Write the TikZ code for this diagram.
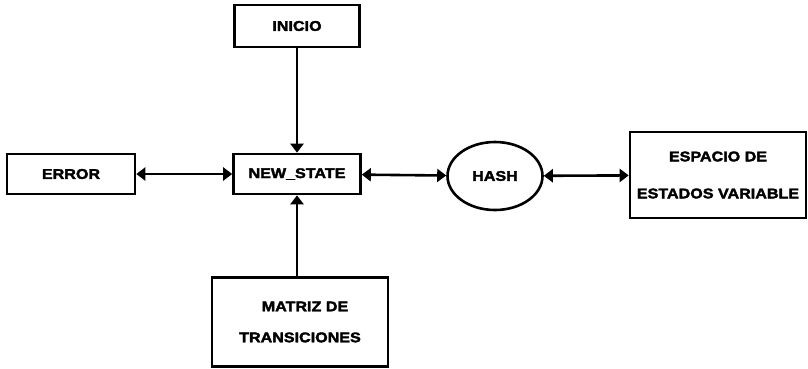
\documentclass[tikz,border=0pt]{standalone}
\usepackage{fontspec}
\newfontfamily\diagfont[FakeStretch=1.15, BoldFeatures={FakeBold=2.5}]{Liberation Sans}
\usetikzlibrary{arrows.meta, positioning, shapes.geometric}

\begin{document}
\begin{tikzpicture}[x=1pt, y=1pt,
    box/.style={draw, line width=2.6pt, inner sep=0pt, align=center,
        font=\diagfont\bfseries\fontsize{14}{31}\selectfont},
    arr/.style={line width=2.6pt, -{Triangle[length=9pt, width=13pt]}},
    darr/.style={line width=2.6pt, {Triangle[length=9pt, width=13pt]}-{Triangle[length=9pt, width=13pt]}}
]
    \useasboundingbox (0,0) rectangle (808,-368);

    % Boxes
    \node[box, minimum width=125pt, minimum height=42pt] (inicio) at (297,-26) {INICIO};
    \node[box, minimum width=127pt, minimum height=40pt] (nstate) at (297,-174) {NEW\_STATE};
    \node[box, minimum width=128pt, minimum height=40pt] (error) at (71,-174) {ERROR};
    \node[box, ellipse, minimum width=95pt, minimum height=68pt] (hash) at (495,-176) {HASH};
    \node[box, minimum width=176pt, minimum height=86pt,
        font=\diagfont\bfseries\fontsize{14}{37}\selectfont] (espacio) at (718,-175)
        {ESPACIO DE\\ESTADOS VARIABLE};
    \node[box, minimum width=176pt, minimum height=89pt] (matriz) at (300,-322)
        {\hspace*{10pt}MATRIZ DE\\TRANSICIONES};

    % Connections
    \draw[arr] (inicio) -- (nstate);
    \draw[arr] (matriz.north -| nstate.south) -- (nstate.south);
    \draw[darr] (error) -- (nstate);
    \draw[darr] (nstate) -- (hash);
    \draw[darr] (hash) -- (espacio);
\end{tikzpicture}
\end{document}
